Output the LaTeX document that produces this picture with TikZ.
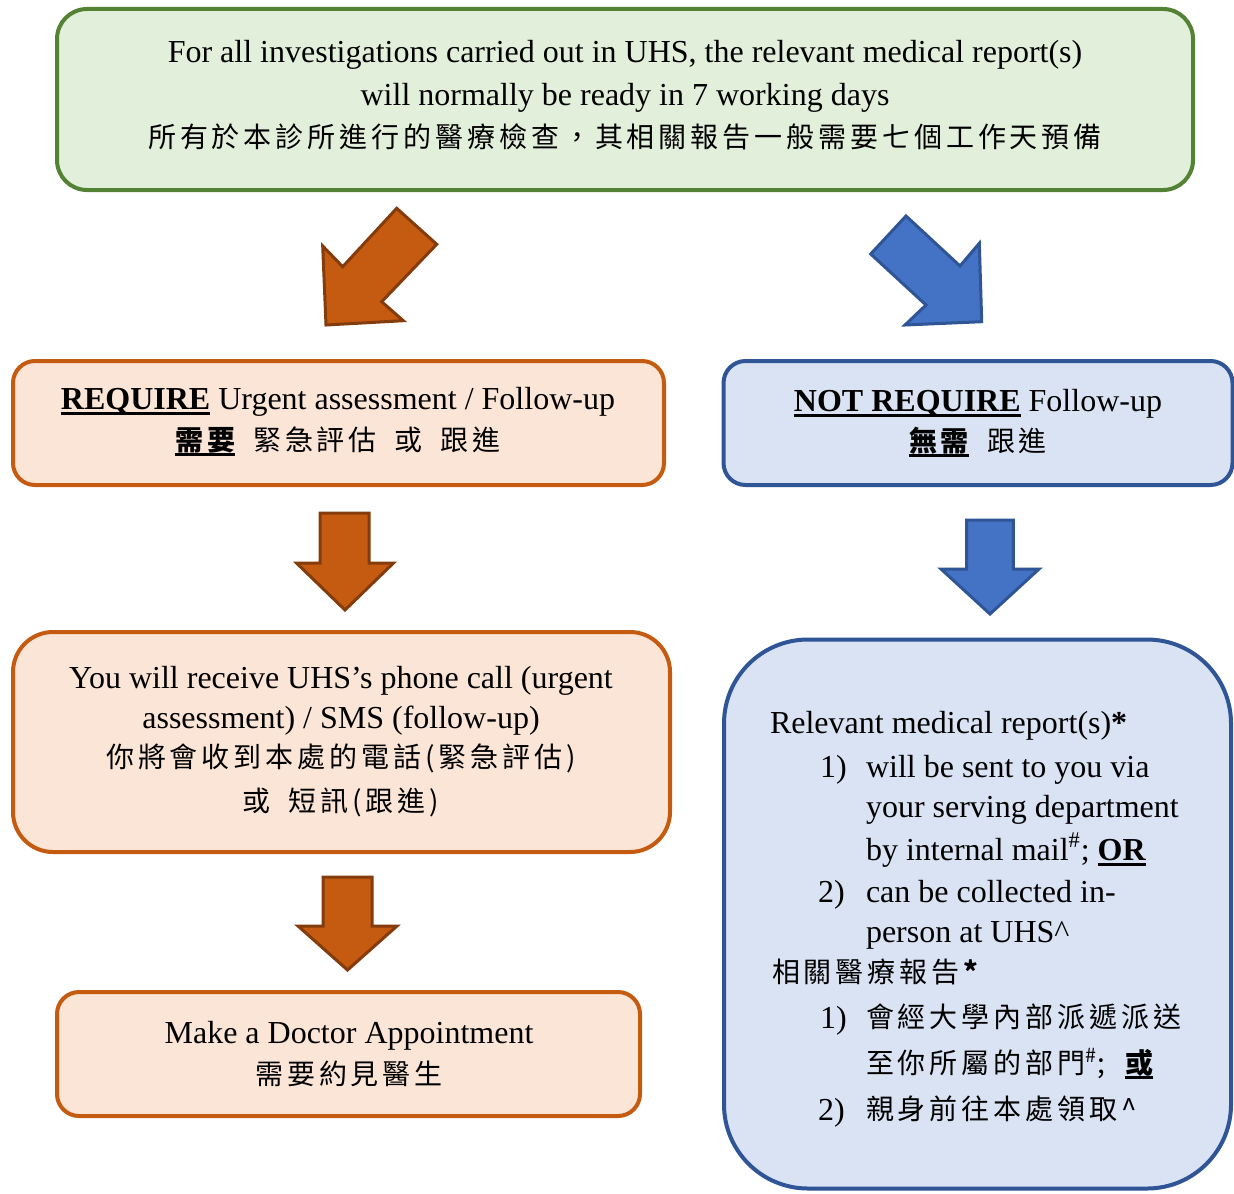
\documentclass[tikz,border=0pt]{standalone}
\usepackage{fontspec}
\setmainfont{Liberation Serif}
\newfontfamily\cjk[LetterSpace=14]{Noto Sans CJK TC}
\newcommand\en{\fontsize{16}{19}\selectfont}
\newcommand\zh{\cjk\fontsize{14}{17}\selectfont}
\newcommand\zgap{\hspace{9pt}}
\newcommand\myul[1]{\setbox0\hbox{#1}\rlap{\rule[-3pt]{\wd0}{1.4pt}}\box0\relax}
\definecolor{gfill}{HTML}{E2EFDA}
\definecolor{gline}{HTML}{548235}
\definecolor{ofill}{HTML}{FBE5D6}
\definecolor{oline}{HTML}{C55A11}
\definecolor{oarrow}{HTML}{C55A11}
\definecolor{oarrowline}{HTML}{843C0C}
\definecolor{bfill}{HTML}{DAE3F3}
\definecolor{bline}{HTML}{2F5597}
\definecolor{barrow}{HTML}{4472C4}
\begin{document}
\begin{tikzpicture}[x=0.5pt,y=-0.5pt,
  gbox/.style={draw=gline,fill=gfill,line width=2pt,rounded corners=15pt},
  obox/.style={draw=oline,fill=ofill,line width=2pt},
  bbox/.style={draw=bline,fill=bfill,line width=2pt},
  oarr/.style={draw=oarrowline,fill=oarrow,line width=1.5pt,line join=miter},
  barr/.style={draw=bline,fill=barrow,line width=1.5pt,line join=miter},
  txt/.style={inner sep=0pt,outer sep=0pt,anchor=base},
  ltxt/.style={inner sep=0pt,outer sep=0pt,anchor=base west}]
\useasboundingbox (0,0) rectangle (1234,1193);
\fill[white] (0,0) rectangle (1234,1193);
% boxes
\node[gbox,minimum width=568pt,minimum height=90.5pt] (top) at (625,99.5) {};
\node[obox,rounded corners=11pt,minimum width=325.5pt,minimum height=62pt] (req) at (338.5,423) {};
\node[bbox,rounded corners=11pt,minimum width=254.5pt,minimum height=62pt] (notreq) at (978,423) {};
\node[obox,rounded corners=20pt,minimum width=328.5pt,minimum height=110pt] (call) at (341.5,742) {};
\node[bbox,rounded corners=42pt,minimum width=253.5pt,minimum height=274.5pt] (report) at (977.5,914) {};
\node[obox,rounded corners=11pt,minimum width=291.5pt,minimum height=62pt] (appt) at (348.5,1054) {};
% arrows
\draw[oarr] (396.7,208.3) -- (436.7,244.3) -- (381.7,301.7) -- (403.3,320.7) -- (326,325) -- (322.7,246) -- (342.7,266.7) -- cycle;
\draw[barr] (906,216) -- (870.7,254) -- (926,305) -- (905,325) -- (981.7,321.7) -- (979.3,243.3) -- (960,266) -- cycle;
\draw[oarr] (320,513) -- (369,513) -- (369,563) -- (393.5,563) -- (345,610) -- (296.5,563) -- (320,563) -- cycle;
\draw[oarr] (323,877) -- (372,877) -- (372,926) -- (397,926) -- (347.5,970) -- (298,926) -- (323,926) -- cycle;
\draw[barr] (966.7,520) -- (1013.3,520) -- (1013.3,569) -- (1039,569) -- (990,614) -- (941,569) -- (966.7,569) -- cycle;
% top text
\node[txt] (t1) at (625,63) {\en For all investigations carried out in UHS, the relevant medical report(s)};
\node[txt] (t2) at (625,105) {\en will normally be ready in 7 working days};
\node[txt] (t3) at (625,147) {\zh 所有於本診所進行的醫療檢查，其相關報告一般需要七個工作天預備};
% require
\node[txt] (r1) at (338,409) {\en\myul{\textbf{REQUIRE}} Urgent assessment / Follow-up};
\node[txt] (r2) at (338,450) {\zh\myul{\bfseries 需要}\zgap 緊急評估\zgap 或\zgap 跟進};
% not require
\node[txt] (n1) at (978,411) {\en\myul{\textbf{NOT REQUIRE}} Follow-up};
\node[txt] (n2) at (978,451) {\zh\myul{\bfseries 無需}\zgap 跟進};
% phone call
\node[txt] (c1) at (341,688) {\en You will receive UHS’s phone call (urgent};
\node[txt] (c2) at (341,728) {\en assessment) / SMS (follow-up)};
\node[txt] (c3) at (341,767) {\zh 你將會收到本處的電話(緊急評估)};
\node[txt] (c4) at (341,811) {\zh 或\zgap 短訊(跟進)};
% appointment
\node[txt] (a1) at (349,1043) {\en Make a Doctor Appointment};
\node[txt] (a2) at (349,1084) {\zh 需要約見醫生};
% report list
\node[ltxt] (p0) at (770,733) {\en Relevant medical report(s)\textbf{*}};
\node[ltxt] (p1n) at (820,777) {\en 1)};
\node[ltxt] (p1a) at (866,777) {\en will be sent to you via};
\node[ltxt] (p1b) at (866,817) {\en your serving department};
\node[ltxt] (p1c) at (866,860) {\en by internal mail\textsuperscript{\#}; \myul{\textbf{OR}}};
\node[ltxt] (p2n) at (818,902) {\en 2)};
\node[ltxt] (p2a) at (866,902) {\en can be collected in-};
\node[ltxt] (p2b) at (866,942) {\en person at UHS\^{}};
\node[ltxt] (q0) at (772,982) {\zh 相關醫療報告\textbf{*}};
\node[ltxt] (q1n) at (820,1028) {\en 1)};
\node[ltxt] (q1a) at (866,1027) {\zh 會經大學內部派遞派送};
\node[ltxt] (q1b) at (866,1073) {\zh 至你所屬的部門\textsuperscript{\#};\hspace{10pt}\myul{\bfseries 或}};
\node[ltxt] (q2n) at (818,1120) {\en 2)};
\node[ltxt] (q2a) at (866,1119) {\zh 親身前往本處領取\^{}};
\end{tikzpicture}
\end{document}
